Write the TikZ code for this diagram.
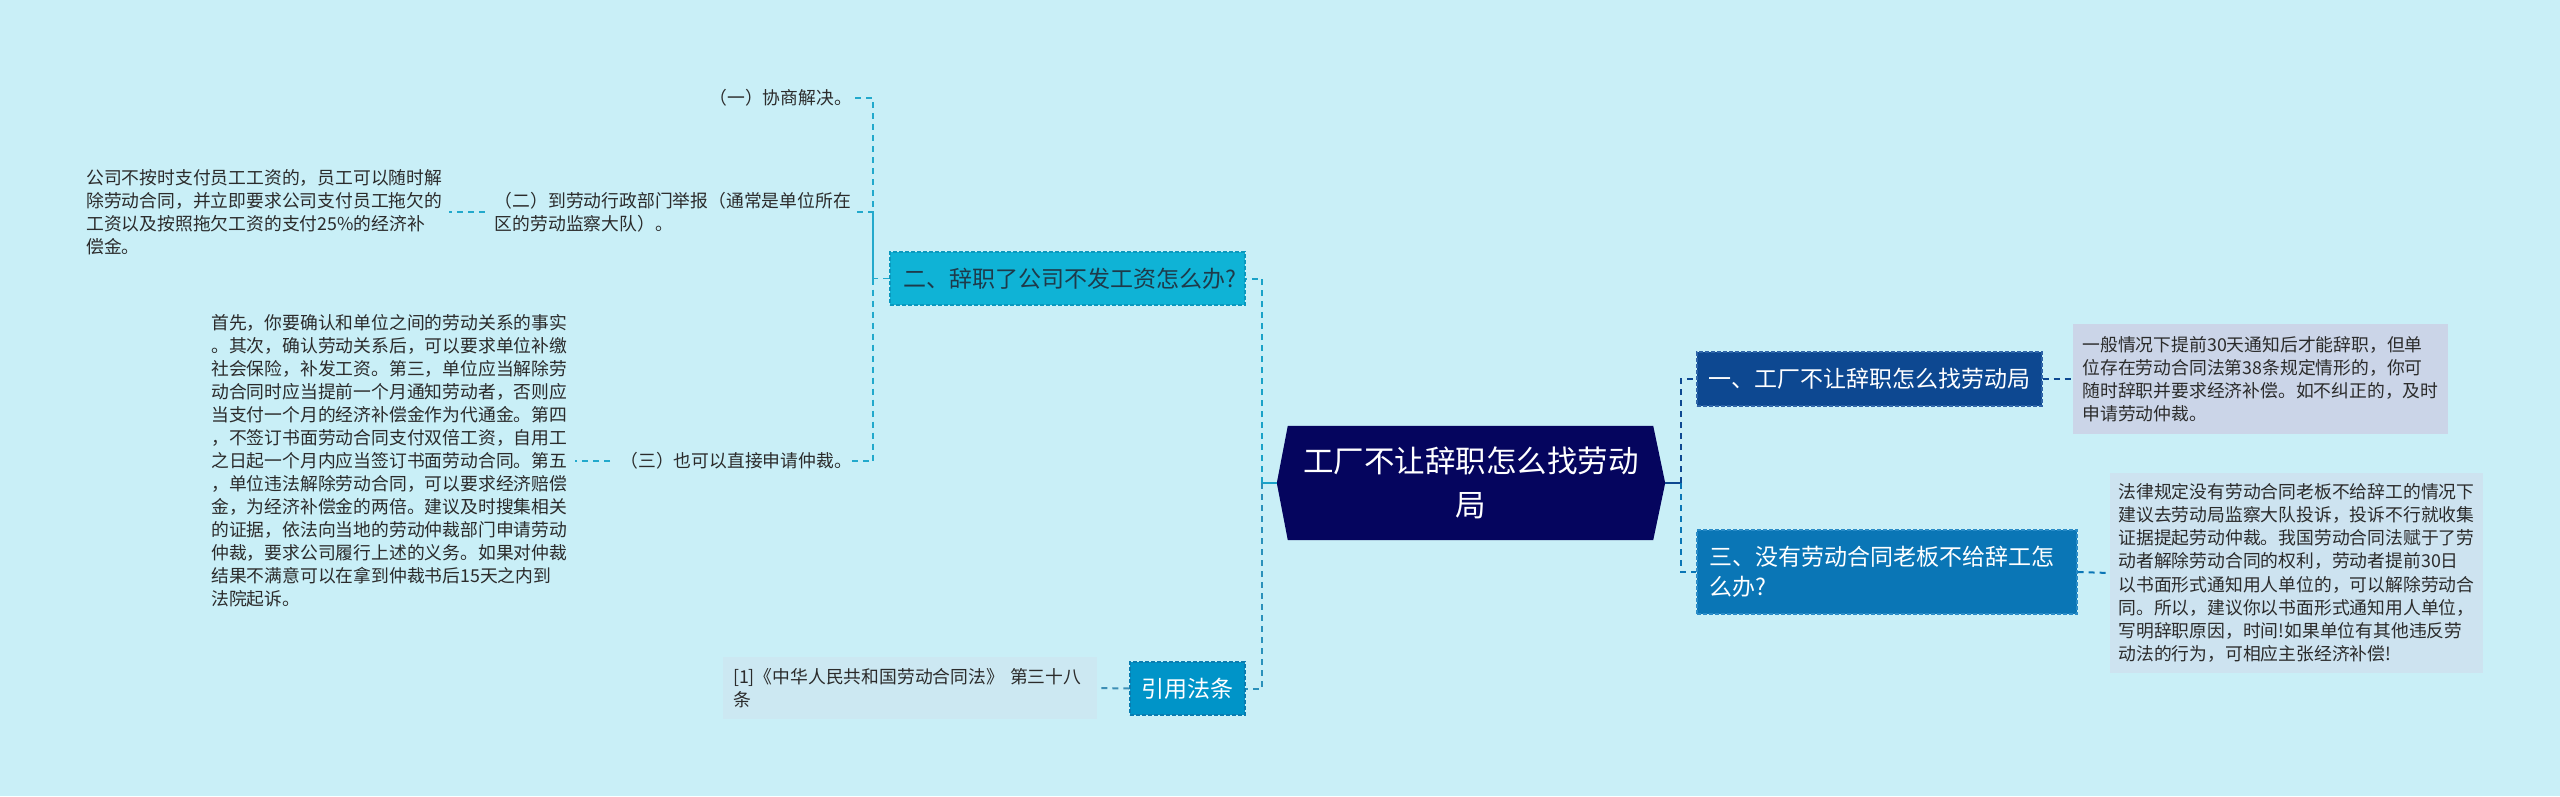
\documentclass[tikz,border=0pt]{standalone}
\usepackage{fontspec}
\setmainfont{Noto Sans CJK SC}
\pgfdeclarelayer{bgl}
\pgfdeclarelayer{hexl}
\pgfsetlayers{bgl,hexl,main}
\definecolor{bgc}{HTML}{C9EFF7}
\definecolor{centerc}{HTML}{05055E}
\definecolor{oneC}{HTML}{0D4891}
\definecolor{oneB}{HTML}{2E64A8}
\definecolor{twoC}{HTML}{0FB3D6}
\definecolor{twoB}{HTML}{0A98BE}
\definecolor{twoL}{HTML}{1AA2C8}
\definecolor{threeC}{HTML}{0A76B6}
\definecolor{threeB}{HTML}{2A8CC8}
\definecolor{refC}{HTML}{0094C8}
\definecolor{refB}{HTML}{0A7CB0}
\definecolor{refL}{HTML}{3D8FB5}
\definecolor{subL}{HTML}{22A9CC}
\definecolor{dOne}{HTML}{CBD5E8}
\definecolor{dThree}{HTML}{CDE3F0}
\definecolor{dRef}{HTML}{CCE8F2}
\definecolor{txt}{HTML}{2B2B2B}
\definecolor{twoT}{HTML}{1E3A4A}
\begin{document}
\begin{tikzpicture}[x=1pt,y=-1pt,
  hexnode/.style={rectangle, inner sep=0, minimum width=388, minimum height=114,
    text=white, align=center, font=\fontsize{30.5}{44}\selectfont},
  branch/.style={rectangle, inner ysep=0, align=left,
    font=\fontsize{23}{30}\selectfont, draw, dash pattern=on 4pt off 2pt, line width=1.2pt},
  descbox/.style={rectangle, inner ysep=0, align=left, text=txt,
    font=\fontsize{17.8}{23.2}\selectfont},
  plain/.style={inner sep=0, align=left, text=txt, font=\fontsize{17.8}{23}\selectfont},
  lk/.style={dash pattern=on 6pt off 5pt, line width=2pt},
  lk2/.style={dash pattern=on 6pt off 5pt, line width=1.5pt, subL},
  stub/.style={line width=2pt}
]
\begin{pgfonlayer}{bgl}
\fill[bgc] (0,0) rectangle (2560,796);
\end{pgfonlayer}
\useasboundingbox (0,0) rectangle (2560,796);

% central node
\node[hexnode] (c) at (1471,483) {工厂不让辞职怎么找劳动\\局};
\begin{pgfonlayer}{hexl}
\fill[centerc] (c.west) -- ([xshift=11pt]c.north west) -- ([xshift=-12pt]c.north east)
  -- (c.east) -- ([xshift=-12pt]c.south east) -- ([xshift=11pt]c.south west) -- cycle;
\end{pgfonlayer}

% branch nodes
\node[branch, fill=twoC, draw=twoB, text=twoT, minimum width=355, minimum height=53,
  inner xsep=13, text width=329] (n2) at (1067.5,278.5) {二、辞职了公司不发工资怎么办?};
\node[branch, fill=refC, draw=refB, text=white, minimum width=115, minimum height=53,
  inner xsep=0, align=center] (rf) at (1187.5,688.5) {引用法条};
\node[branch, fill=oneC, draw=oneB, text=white, minimum width=345, minimum height=54,
  inner xsep=11.5, text width=322] (n1) at (1869.5,379) {一、工厂不让辞职怎么找劳动局};
\node[branch, fill=threeC, draw=threeB, text=white, minimum width=380, minimum height=84,
  inner xsep=12, text width=356] (n3) at (1887,572) {三、没有劳动合同老板不给辞工怎\\么办?};

% description boxes
\node[descbox, fill=dOne, minimum width=375, minimum height=110, inner xsep=9.5, text width=356]
  (d1) at (2260.5,379) {一般情况下提前30天通知后才能辞职，但单\\位存在劳动合同法第38条规定情形的，你可\\随时辞职并要求经济补偿。如不纠正的，及时\\申请劳动仲裁。};
\node[descbox, fill=dThree, minimum width=373, minimum height=200, inner xsep=8.5, text width=356]
  (d3) at (2296.5,573) {法律规定没有劳动合同老板不给辞工的情况下\\建议去劳动局监察大队投诉，投诉不行就收集\\证据提起劳动仲裁。我国劳动合同法赋于了劳\\动者解除劳动合同的权利，劳动者提前30日\\以书面形式通知用人单位的，可以解除劳动合\\同。所以，建议你以书面形式通知用人单位，\\写明辞职原因，时间!如果单位有其他违反劳\\动法的行为，可相应主张经济补偿!};
\node[descbox, fill=dRef, minimum width=374, minimum height=62, inner xsep=10, text width=354]
  (rb) at (910,688) {[1]《中华人民共和国劳动合同法》 第三十八\\条};

% sub items of 二
\node[plain, anchor=east] (t1) at (852,98) {（一）协商解决。};
\node[plain, anchor=east, text width=357] (t2) at (852,212) {（二）到劳动行政部门举报（通常是单位所在\\区的劳动监察大队）。};
\node[plain, anchor=east] (t3) at (852,461) {（三）也可以直接申请仲裁。};
\node[plain, anchor=west, text width=358] (b1) at (86,212) {公司不按时支付员工工资的，员工可以随时解\\除劳动合同，并立即要求公司支付员工拖欠的\\工资以及按照拖欠工资的支付25\%的经济补\\偿金。};
\node[plain, anchor=west, text width=358] (b2) at (211,461) {首先，你要确认和单位之间的劳动关系的事实\\。其次，确认劳动关系后，可以要求单位补缴\\社会保险，补发工资。第三，单位应当解除劳\\动合同时应当提前一个月通知劳动者，否则应\\当支付一个月的经济补偿金作为代通金。第四\\，不签订书面劳动合同支付双倍工资，自用工\\之日起一个月内应当签订书面劳动合同。第五\\，单位违法解除劳动合同，可以要求经济赔偿\\金，为经济补偿金的两倍。建议及时搜集相关\\的证据，依法向当地的劳动仲裁部门申请劳动\\仲裁，要求公司履行上述的义务。如果对仲裁\\结果不满意可以在拿到仲裁书后15天之内到\\法院起诉。};

% trunk coordinates
\coordinate (tl) at (1262,483);
\coordinate (tr) at (1681,483);
\coordinate (st) at (873,278.5);

% main connectors
\draw[stub, twoL] (c.west) -- (tl);
\draw[stub, oneC] (c.east) -- (tr);
\draw[lk, refL!70!refC] (tl) |- (rf.east);
\draw[lk, twoL] (tl) |- (n2.east);
\draw[lk, threeC] (tr) |- (n3.west);
\draw[lk, oneC] (tr) |- (n1.west);

% sub connectors
\draw[lk2] (n2.west) -- (st) |- (t1.east);
\draw[lk2] (st) |- (t2.east);
\draw[lk2] (st) |- (t3.east);
\draw[lk2, shorten <=10pt, shorten >=5pt] (t2.west) -- (b1.east);
\draw[lk2, shorten <=10pt, shorten >=6pt] (t3.west) -- (b2.east);

% leaf connectors
\draw[lk, refL] (rf.west) -- (rb.east);
\draw[lk, oneC] (n1.east) -- (d1.west);
\draw[lk, threeC] (n3.east) -- (d3.west);
\end{tikzpicture}
\end{document}
